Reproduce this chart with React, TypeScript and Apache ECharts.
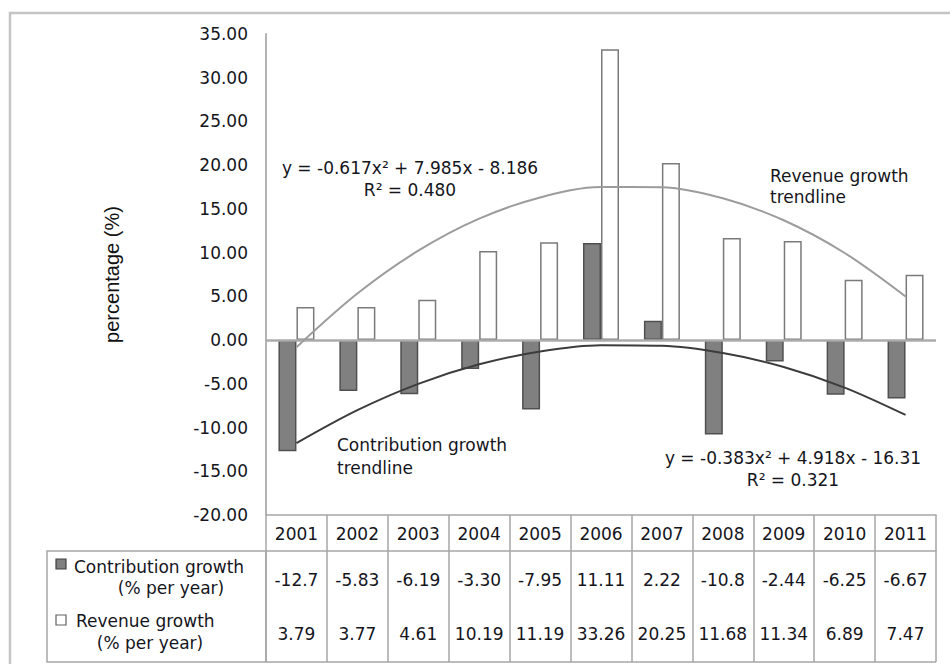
import React, { useEffect, useRef } from "react";
import * as echarts from "echarts";

const years = ["2001", "2002", "2003", "2004", "2005", "2006", "2007", "2008", "2009", "2010", "2011"];
const contribution = [-12.7, -5.83, -6.19, -3.3, -7.95, 11.11, 2.22, -10.8, -2.44, -6.25, -6.67];
const revenue = [3.79, 3.77, 4.61, 10.19, 11.19, 33.26, 20.25, 11.68, 11.34, 6.89, 7.47];
// trendline values read at each year (Excel polynomial trendlines shown on the chart)
const revenueTrend = [-0.82, 5.32, 10.22, 13.88, 16.31, 17.51, 17.48, 16.21, 13.7, 9.96, 4.99];
const contributionTrend = [-11.78, -8.01, -5.0, -2.77, -1.3, -0.59, -0.65, -1.48, -3.07, -5.43, -8.56];
const yMin = -20;
const yMax = 35;
const yStep = 5;
const revenueEquation = "y = -0.617x² + 7.985x - 8.186\nR² = 0.480";
const contributionEquation = "y = -0.383x² + 4.918x - 16.31\nR² = 0.321";
const revenueTrendLabel = "Revenue growth\ntrendline";
const contributionTrendLabel = "Contribution growth\ntrendline";
const rowLabelCon = ["Contribution growth", "(% per year)"];
const rowLabelRev = ["Revenue growth", "(% per year)"];

const FONT = "'DejaVu Sans', Verdana, sans-serif";
const FS = 17;
const TXT = "#15151c";
const GRID_LINE = "#a6a6a6";

function fmtCell(v: number): string {
  if (v <= -10) return v.toFixed(1);
  return v.toFixed(2);
}

function txt(text: string, x: number, y: number, align: string, extra: any = {}) {
  return {
    type: "text",
    x,
    y,
    silent: true,
    style: {
      text,
      fill: TXT,
      fontSize: FS,
      fontFamily: FONT,
      align,
      textAlign: align,
      verticalAlign: "middle",
      textVerticalAlign: "middle",
      lineHeight: 22,
      ...extra,
    },
  };
}

export default function App() {
  const ref = useRef<HTMLDivElement>(null);

  useEffect(() => {
    document.body.style.margin = "0";
    if (!ref.current) return;
    const chart = echarts.init(ref.current, null, { renderer: "svg" });

    const baseCat = {
      type: "category",
      data: years,
      position: "bottom",
      boundaryGap: true,
    };

    const option: any = {
      animation: false,
      backgroundColor: "#ffffff",
      grid: { left: 266, right: 14, top: 34, bottom: 149, containLabel: false },
      xAxis: [
        {
          ...baseCat,
          axisLine: { show: true, onZero: false, lineStyle: { color: GRID_LINE, width: 1.5 } },
          axisTick: { show: true, length: 36, interval: 0, lineStyle: { color: GRID_LINE, width: 1.5 } },
          axisLabel: { interval: 0, margin: 10, color: TXT, fontSize: FS, fontFamily: FONT },
        },
        {
          ...baseCat,
          offset: 36,
          axisLine: { show: true, onZero: false, lineStyle: { color: GRID_LINE, width: 1.5 } },
          axisTick: { show: true, length: 111, interval: 0, lineStyle: { color: GRID_LINE, width: 1.5 } },
          axisLabel: {
            interval: 0,
            margin: 20,
            color: TXT,
            fontSize: FS,
            fontFamily: FONT,
            formatter: (_v: string, i: number) => fmtCell(contribution[i]),
          },
        },
        {
          ...baseCat,
          offset: 36,
          axisLine: { show: false },
          axisTick: { show: false },
          axisLabel: {
            interval: 0,
            margin: 74,
            color: TXT,
            fontSize: FS,
            fontFamily: FONT,
            formatter: (_v: string, i: number) => revenue[i].toFixed(2),
          },
        },
      ],
      yAxis: {
        type: "value",
        min: yMin,
        max: yMax,
        interval: yStep,
        name: "percentage (%)",
        nameLocation: "middle",
        nameGap: 144,
        nameTextStyle: { fontFamily: "'Liberation Sans', Arial, sans-serif", fontSize: 20, color: "#111" },
        axisLine: { show: true, lineStyle: { color: "#b3b3b3", width: 2 } },
        axisTick: { show: false },
        splitLine: { show: false },
        axisLabel: {
          margin: 18,
          color: TXT,
          fontSize: FS,
          fontFamily: FONT,
          formatter: (v: number) => v.toFixed(2),
        },
      },
      series: [
        {
          name: "Contribution growth (% per year)",
          type: "bar",
          data: contribution,
          barWidth: 18,
          barGap: "0%",
          itemStyle: { color: "#808080", borderColor: "#505050", borderWidth: 1.5 },
          markLine: {
            silent: true,
            symbol: ["none", "none"],
            label: { show: false },
            lineStyle: { color: "#ababab", width: 2.5, type: "solid" },
            data: [{ yAxis: 0 }],
          },
        },
        {
          name: "Revenue growth (% per year)",
          type: "bar",
          data: revenue,
          barWidth: 18,
          barGap: "0%",
          itemStyle: { color: "#ffffff", borderColor: "#7a7a7a", borderWidth: 1.5 },
        },
        {
          name: "Revenue growth trendline",
          type: "line",
          data: revenueTrend,
          smooth: 0.33,
          symbol: "none",
          z: 5,
          lineStyle: { color: "#9c9c9c", width: 2 },
        },
        {
          name: "Contribution growth trendline",
          type: "line",
          data: contributionTrend,
          smooth: 0.33,
          symbol: "none",
          z: 5,
          lineStyle: { color: "#3c3c3c", width: 2 },
        },
      ],
      graphic: [
        {
          type: "rect",
          silent: true,
          shape: { x: 10, y: 13, width: 960, height: 680 },
          style: { fill: "none", stroke: "#c4c4c4", lineWidth: 2.5 },
        },
        {
          type: "rect",
          silent: true,
          shape: { x: 47, y: 551, width: 219, height: 111 },
          style: { fill: "none", stroke: GRID_LINE, lineWidth: 1.5 },
        },
        {
          type: "line",
          silent: true,
          shape: { x1: 266, y1: 662, x2: 936, y2: 662 },
          style: { stroke: GRID_LINE, lineWidth: 1.5 },
        },
        {
          type: "rect",
          silent: true,
          shape: { x: 56, y: 559, width: 10, height: 10 },
          style: { fill: "#808080", stroke: "#404040", lineWidth: 1.2 },
        },
        {
          type: "rect",
          silent: true,
          shape: { x: 56, y: 615, width: 10, height: 10 },
          style: { fill: "#ffffff", stroke: "#606060", lineWidth: 1.2 },
        },
        txt(rowLabelCon[0], 74, 567, "left"),
        txt(rowLabelCon[1], 171, 588, "center"),
        txt(rowLabelRev[0], 76, 621, "left"),
        txt(rowLabelRev[1], 150, 643, "center"),
        txt(revenueEquation, 410, 179, "center"),
        txt(contributionEquation, 793, 469, "center"),
        txt(revenueTrendLabel, 770, 186, "left", { lineHeight: 21 }),
        txt(contributionTrendLabel, 337, 456, "left", { lineHeight: 23 }),
      ],
    };

    chart.setOption(option);
    return () => {
      chart.dispose();
    };
  }, []);

  return <div ref={ref} style={{ width: 950, height: 664 }} />;
}
